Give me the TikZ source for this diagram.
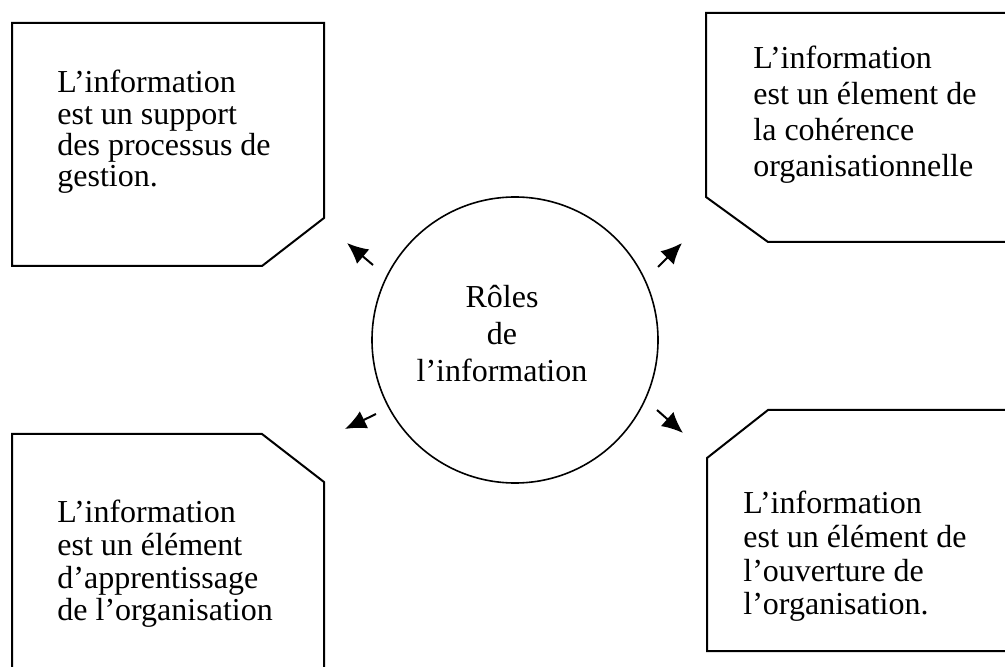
\documentclass[tikz,border=0pt]{standalone}
\usepackage{fontspec}
\setmainfont{Liberation Serif}
\usetikzlibrary{shapes,arrows.meta,calc}

\begin{document}
\begin{tikzpicture}[x=0.5pt, y=-0.5pt]
\tikzstyle{cadre} = [draw, line width=1pt, line join=miter]
\tikzstyle{texte} = [anchor=north west, align=left, inner sep=0pt, font=\fontsize{16}{16.5}\selectfont]
\tikzstyle{role} = [circle, draw, line width=0.8pt, minimum size=143pt, inner sep=0pt]
\tikzstyle{fleche} = [line width=1pt, -{Latex[length=10.5pt,width=9.5pt]}]

\useasboundingbox (0,0) rectangle (1005,667);

% cadres
\draw [cadre] (12,23) -- (324,23) -- (324,218) -- (262,266) -- (12,266) -- cycle;
\draw [cadre] (706,13) -- (1015,13) -- (1015,242) -- (768,242) -- (706,197) -- cycle;
\draw [cadre] (12,434) -- (262,434) -- (324,482) -- (324,680) -- (12,680) -- cycle;
\draw [cadre] (768,410) -- (1015,410) -- (1015,651) -- (707,651) -- (707,458) -- cycle;

\node [texte, font=\fontsize{16}{15.6}\selectfont] (support) at (57,70) {L’information\\est un support\\des processus de\\gestion.};
\node [texte, font=\fontsize{16}{18}\selectfont] (coherence) at (753,46) {L’information\\est un élement de\\la cohérence\\organisationnelle};
\node [texte, font=\fontsize{16}{16.3}\selectfont] (apprentissage) at (57,500) {L’information\\est un élément\\d’apprentissage\\de l’organisation};
\node [texte, font=\fontsize{16}{16.8}\selectfont] (ouverture) at (743,491) {L’information\\est un élément de\\l’ouverture de\\l’organisation.};

% centre
\node [role] (roles) at (515,340) {};
\node [align=center, inner sep=0pt, font=\fontsize{16}{18.5}\selectfont] (rolestxt) at (502,334) {Rôles\\de\\l’information};

% fleches
\coordinate (ulq) at (373,265);
\coordinate (ulp) at (347,243);
\coordinate (urq) at (658,267);
\coordinate (urp) at (682,243);
\coordinate (llq) at (376,414);
\coordinate (llp) at (345,429);
\coordinate (lrq) at (657,410);
\coordinate (lrp) at (683,433);

\draw [fleche] (ulq) -- (ulp);
\draw [fleche] (urq) -- (urp);
\draw [fleche] (llq) -- (llp);
\draw [fleche] (lrq) -- (lrp);
\end{tikzpicture}
\end{document}
